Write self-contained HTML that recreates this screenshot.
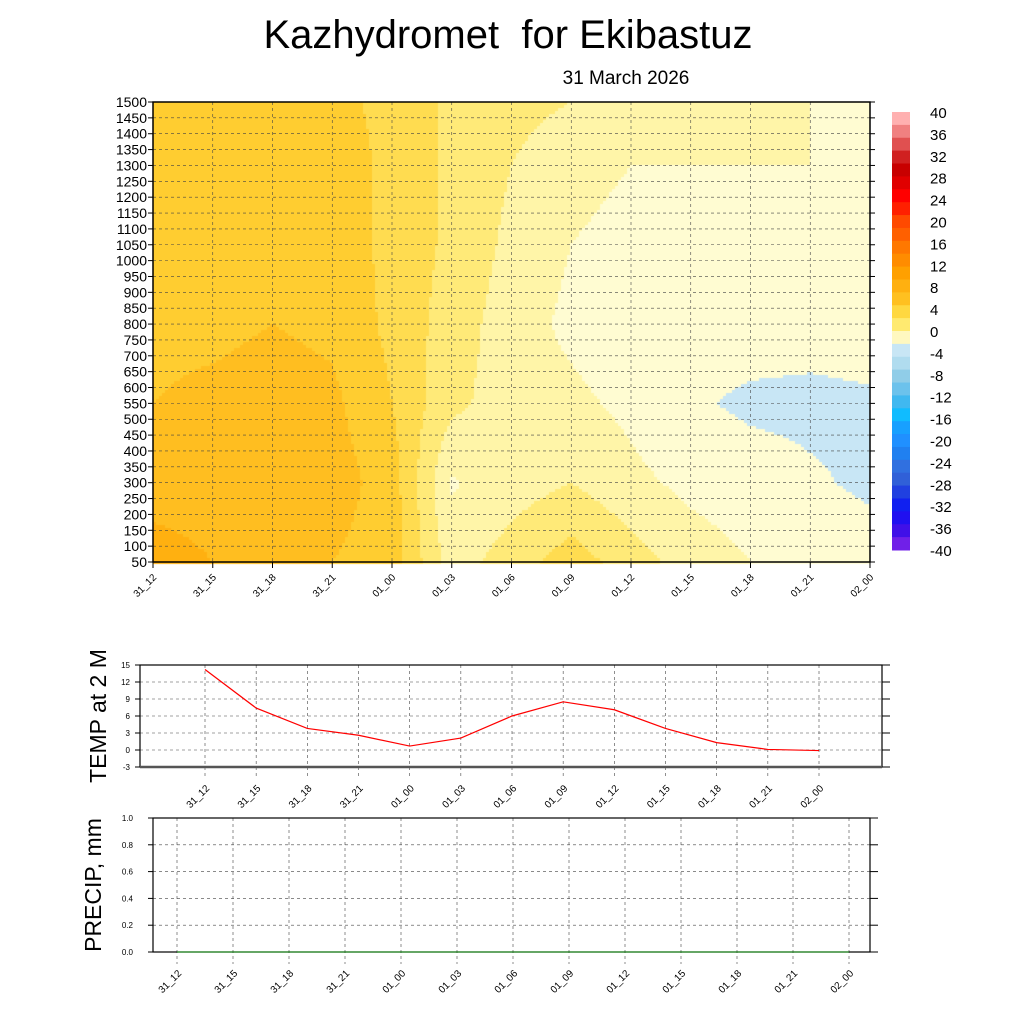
<!DOCTYPE html>
<html><head><meta charset="utf-8">
<style>
body{margin:0;background:#fff;width:1024px;height:1024px;overflow:hidden;font-family:"Liberation Sans",sans-serif;}
#wrap{position:relative;width:1024px;height:1024px;}
canvas,svg{position:absolute;left:0;top:0;}
</style></head>
<body>
<div id="wrap">
<canvas id="field" width="1024" height="1024"></canvas>
<svg id="svg" width="1024" height="1024"></svg>
</div>
<script>
const times=["31_12","31_15","31_18","31_21","01_00","01_03","01_06","01_09","01_12","01_15","01_18","01_21","02_00"];
const fieldLevels=[50,300,550,800,1050,1300,1500];
const fieldTemps=[
[13,11,10,9.5,9.5,9,8.5],
[12,11,10.5,9.5,9,9,8.5],
[11,11,11,10,9,9,8.5],
[10,11,10.5,9.5,9,9,8.5],
[9,9,8,7.5,7.5,7.5,7.5],
[3,1.8,4.5,5,5.5,5.5,5.5],
[5,3,3,3,3.5,4,4.5],
[7,4,2.5,1.5,2,3,4],
[5,2.5,1.5,0.5,1,2,3.5],
[3,1.5,0.3,1,1.5,2,3],
[2,1,-0.4,1,1.5,2,2.5],
[1.5,0.3,-0.5,0.8,1.5,2,2],
[1,-0.4,-0.3,1,1.5,2,1.5]];
const t2m=[14.2,7.4,3.8,2.6,0.7,2.1,6.0,8.5,7.1,3.8,1.3,0.1,-0.1];
const precip=[0,0,0,0,0,0,0,0,0,0,0,0,0];
const yLevels=[];for(let v=50;v<=1500;v+=50)yLevels.push(v);
const cbLabels=[40,36,32,28,24,20,16,12,8,4,0,-4,-8,-12,-16,-20,-24,-28,-32,-36,-40];
const tTicks=[-3,0,3,6,9,12,15];
const pTicks=[0.0,0.2,0.4,0.6,0.8,1.0];

const NS="http://www.w3.org/2000/svg";
const svg=document.getElementById('svg');
function el(tag,attrs,parent){const e=document.createElementNS(NS,tag);for(const k in attrs)e.setAttribute(k,attrs[k]);(parent||svg).appendChild(e);return e;}
function txt(x,y,s,size,anchor,extra){const t=el('text',Object.assign({x:x,y:y,'font-size':size,'text-anchor':anchor||'middle','font-family':'Liberation Sans, sans-serif',fill:'#000','xml:space':'preserve'},extra||{}));t.style.whiteSpace='pre';t.textContent=s;return t;}

const MX0=153,MX1=870,MY0=562,MY1=102;
const mx=i=>MX0+(MX1-MX0)*i/(times.length-1);
const my=v=>MY0-(MY0-MY1)*(v-50)/(1500-50);
function colorFor(t){
 if(t<0)return '#c8e6f5';
 const c=['#fffcd2','#fff5a8','#ffea78','#ffdc50','#ffcd30','#ffbe20','#ffb010','#ffa500'];
 return c[Math.min(c.length-1,Math.floor(t/2))];
}
function fieldAt(fi,v){
 const i0=Math.min(times.length-2,Math.floor(fi)),fx=fi-i0;
 let j0=0;while(j0<fieldLevels.length-2&&v>fieldLevels[j0+1])j0++;
 const fy=(v-fieldLevels[j0])/(fieldLevels[j0+1]-fieldLevels[j0]);
 const a=fieldTemps[i0][j0],b=fieldTemps[i0+1][j0],c=fieldTemps[i0][j0+1],d=fieldTemps[i0+1][j0+1];
 return (a*(1-fx)+b*fx)*(1-fy)+(c*(1-fx)+d*fx)*fy;
}
const ctx=document.getElementById('field').getContext('2d');
for(let x=MX0;x<MX1;x+=3){for(let y=MY1;y<MY0;y+=3){
 const fi=(x+1.5-MX0)/(MX1-MX0)*(times.length-1);
 const v=50+(MY0-(y+1.5))/(MY0-MY1)*1450;
 ctx.fillStyle=colorFor(fieldAt(fi,v));ctx.fillRect(x,y,3,3);
}}
yLevels.forEach((v,k)=>{
 const g=el('line',{x1:MX0,x2:MX1,y1:my(v),y2:my(v),stroke:'#444','stroke-width':0.6,'stroke-dasharray':'3,3'});
 
 el('line',{x1:MX0-5,x2:MX0,y1:my(v),y2:my(v),stroke:'#000'});
 el('line',{x1:MX1,x2:MX1+5,y1:my(v),y2:my(v),stroke:'#000'});
 const t=txt(MX0-6,my(v)+5,String(v),14,'end');
 
});
times.forEach((s,i)=>{
 el('line',{x1:mx(i),x2:mx(i),y1:MY1,y2:MY0,stroke:'#444','stroke-width':0.6,'stroke-dasharray':'3,3'});
 el('line',{x1:mx(i),x2:mx(i),y1:MY0,y2:MY0+6,stroke:'#000'});
 const t=txt(0,0,s,10,'end',{transform:`translate(${mx(i)+4},${MY0+16}) rotate(-45)`});
 
});
const fr=el('rect',{x:MX0,y:MY1,width:MX1-MX0,height:MY0-MY1,fill:'none',stroke:'#000','stroke-width':1.5});


const tt=txt(508,48,'Kazhydromet  for Ekibastuz',40);
const st=txt(626,84,'31 March 2026',19);

const CBX=892,CBW=18,CBT=112,CBB=550;
const cbCols=['#ffb0b0','#f08080','#e05050','#d02020','#c80000','#e00000','#ff0000','#ff2000','#ff4a00','#ff6000','#ff7800','#ff8c00','#ffa000','#ffb010','#ffc020','#ffd840','#ffea70','#fff8c0','#c8e6f5','#b0dcef','#90cde8','#6cc2ec','#40b8f0','#10bcff','#18a0ff','#2090ff','#2080f0','#3070e0','#3060d8','#2040e0','#1020f0','#2010f0','#4010e8','#7020e8'];
const nb=cbCols.length;
cbCols.forEach((c,k)=>{const r=el('rect',{x:CBX,y:CBT+(CBB-CBT)*k/nb,width:CBW,height:(CBB-CBT)/nb+0.5,fill:c});
 });
cbLabels.forEach((v,k)=>{const t=txt(930,CBT+6+(CBB-CBT)*k/(cbLabels.length-1),String(v),15,'start');
 });

const TX0=140,TX1=882,TY0=767,TY1=665;
const tx=i=>205+(819-205)*i/(times.length-1);
const ty=v=>TY0-(TY0-TY1)*(v+3)/18;
tTicks.forEach(v=>{
 el('line',{x1:TX0,x2:TX1,y1:ty(v),y2:ty(v),stroke:'#444','stroke-width':0.6,'stroke-dasharray':'3,3'});
 el('line',{x1:TX0,x2:TX0-5,y1:ty(v),y2:ty(v),stroke:'#000'});
 el('line',{x1:TX1,x2:TX1+8,y1:ty(v),y2:ty(v),stroke:'#000'});
 const t=txt(TX0-10,ty(v)+3,String(v),8,'end');
});
times.forEach((s,i)=>{
 el('line',{x1:tx(i),x2:tx(i),y1:TY1,y2:TY0+12,stroke:'#444','stroke-width':0.6,'stroke-dasharray':'3,3'});
 const t=txt(0,0,s,10,'end',{transform:`translate(${tx(i)+5},${TY0+22}) rotate(-45)`});
 
});
el('rect',{x:TX0,y:TY1,width:TX1-TX0,height:TY0-TY1,fill:'none',stroke:'#000','stroke-width':1.2});
el('line',{x1:TX0,x2:TX1,y1:TY0,y2:TY0,stroke:'#555','stroke-width':2.5});
const tl=el('polyline',{points:t2m.map((v,i)=>tx(i)+','+ty(v)).join(' '),fill:'none',stroke:'#ff0000','stroke-width':1.2});

const ta=txt(0,0,'TEMP at 2 M',23,'middle',{transform:'translate(106,716) rotate(-90)'});


const PX0=153,PX1=870,PY0=952,PY1=818;
const px=i=>177+(849-177)*i/(times.length-1);
const py=v=>PY0-(PY0-PY1)*v;
pTicks.forEach(v=>{
 el('line',{x1:PX0,x2:PX1,y1:py(v),y2:py(v),stroke:'#444','stroke-width':0.6,'stroke-dasharray':'3,3'});
 el('line',{x1:PX0,x2:PX0-5,y1:py(v),y2:py(v),stroke:'#000'});
 el('line',{x1:PX1,x2:PX1+8,y1:py(v),y2:py(v),stroke:'#000'});
 const t=txt(PX0-20,py(v)+3,v.toFixed(1),8,'end');
});
times.forEach((s,i)=>{
 el('line',{x1:px(i),x2:px(i),y1:PY1,y2:PY0+12,stroke:'#444','stroke-width':0.6,'stroke-dasharray':'3,3'});
 const t=txt(0,0,s,10,'end',{transform:`translate(${px(i)+5},${PY0+22}) rotate(-45)`});
 
});
el('rect',{x:PX0,y:PY1,width:PX1-PX0,height:PY0-PY1,fill:'none',stroke:'#000','stroke-width':1.2});
const pl=el('polyline',{points:precip.map((v,i)=>px(i)+','+py(v)).join(' '),fill:'none',stroke:'#008000','stroke-width':1});

const pa=txt(0,0,'PRECIP, mm',23,'middle',{transform:'translate(101,885) rotate(-90)'});

</script>
</body></html>
